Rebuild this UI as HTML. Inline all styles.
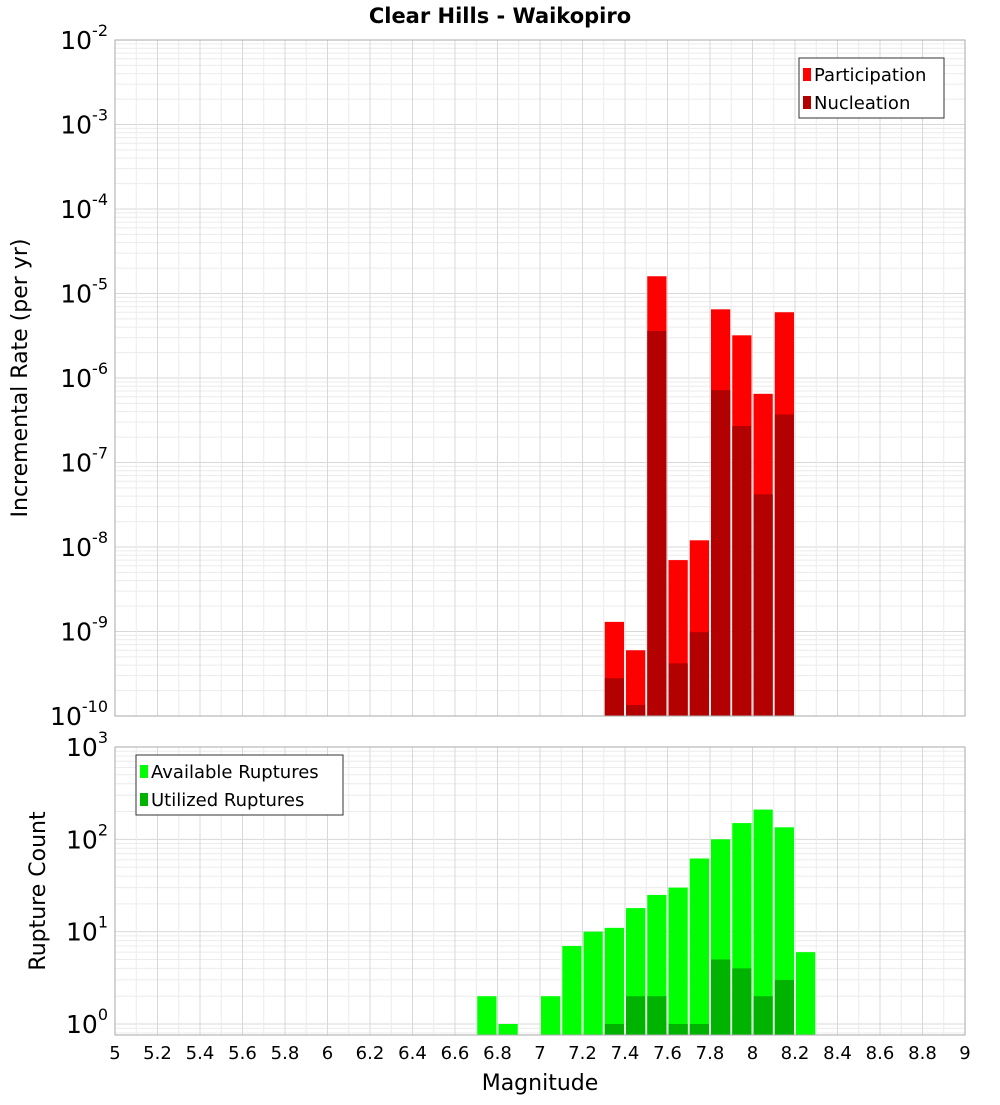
<!DOCTYPE html>
<html><head><meta charset="utf-8"><style>
body{margin:0;background:#fff;font-family:"Liberation Sans","DejaVu Sans",sans-serif}
svg text{font-family:"DejaVu Sans","Liberation Sans",sans-serif}
</style></head><body>
<svg id="c" width="1000" height="1100" viewBox="0 0 1000 1100" xmlns="http://www.w3.org/2000/svg">
<text x="500" y="23" text-anchor="middle" font-size="21" font-weight="bold">Clear Hills - Waikopiro</text>
<g id="topg"></g><g id="botg"></g>
<text transform="translate(27,378) rotate(-90)" text-anchor="middle" font-size="22">Incremental Rate (per yr)</text>
<text transform="translate(45,891) rotate(-90)" text-anchor="middle" font-size="22">Rupture Count</text>
<text x="540" y="1090" text-anchor="middle" font-size="22">Magnitude</text>
</svg>
<script>
const mags=[7.35,7.45,7.55,7.65,7.75,7.85,7.95,8.05,8.15];
const participation=[1.3e-9,6e-10,1.6e-5,7e-9,1.2e-8,6.5e-6,3.2e-6,6.5e-7,6e-6];
const nucleation=[2.8e-10,1.35e-10,3.6e-6,4.2e-10,9.8e-10,7.2e-7,2.7e-7,4.2e-8,3.7e-7];
const countMags=[6.75,6.85,7.05,7.15,7.25,7.35,7.45,7.55,7.65,7.75,7.85,7.95,8.05,8.15,8.25];
const available=[2,1,2,7,10,11,18,25,30,62,100,150,210,135,6];
const utilMags=[7.35,7.45,7.55,7.65,7.75,7.85,7.95,8.05,8.15];
const utilized=[1,2,2,1,1,5,4,2,3];
const xTicks=[5,5.2,5.4,5.6,5.8,6,6.2,6.4,6.6,6.8,7,7.2,7.4,7.6,7.8,8,8.2,8.4,8.6,8.8,9];
const topExps=[-2,-3,-4,-5,-6,-7,-8,-9,-10];
const botExps=[3,2,1,0];

const NS='http://www.w3.org/2000/svg';
const X0=115,X1=965;
const x=m=>X0+(m-5)*(X1-X0)/4;
const T0=40,T1=716;
const yT=v=>T0+(-2-Math.log10(v))*(T1-T0)/8;
const B0=747,BD=92.33,B1=1035;
const yB=v=>B0+(3-Math.log10(v))*BD;
function el(p,t,a){const e=document.createElementNS(NS,t);for(const k in a)e.setAttribute(k,a[k]);p.appendChild(e);return e;}
const topG=document.getElementById('topg'),botG=document.getElementById('botg');

function grid(g,y0,y1,yf,lo,hi){
  for(let d=lo;d<hi;d++)for(let k=1;k<10;k++){const yy=yf(k*Math.pow(10,d));if(yy<y0-0.5||yy>y1+0.5)continue;
    const l=el(g,'line',{x1:X0,x2:X1,y1:yy,y2:yy,stroke:k==1?'#d8d8d8':'#ececec','stroke-width':1});
    }
  for(let i=0;i<=40;i++){const m=5+i*0.1;const xx=x(m);const major=i%2==0;
    const l=el(g,'line',{x1:xx,x2:xx,y1:y0,y2:y1,stroke:major?'#d8d8d8':'#ececec','stroke-width':1});
    }
}
grid(topG,T0,T1,yT,-10,-2);
grid(botG,B0,B1,yB,-1,3);

const bw=(X1-X0)/40;
function bar(g,m,v,base,yf,col,name){
  const r=el(g,'rect',{x:x(m)-bw/2+1,y:yf(v),width:bw-2,height:base-yf(v),fill:col});
  
}
mags.forEach((m,i)=>bar(topG,m,participation[i],T1,yT,'#ff0000','participation-bar'));
mags.forEach((m,i)=>bar(topG,m,nucleation[i],T1,yT,'#b30000','nucleation-bar'));
countMags.forEach((m,i)=>bar(botG,m,available[i],B1,yB,'#00ff00','available-bar'));
utilMags.forEach((m,i)=>bar(botG,m,utilized[i],B1,yB,'#00b300','utilized-bar'));

let f=el(topG,'rect',{x:X0,y:T0,width:X1-X0,height:T1-T0,fill:'none',stroke:'#aaa'});

f=el(botG,'rect',{x:X0,y:B0,width:X1-X0,height:B1-B0,fill:'none',stroke:'#aaa'});


function ylab(g,yy,e){
  const t=el(g,'text',{x:108,y:yy+9,'text-anchor':'end','font-size':25});
  
  t.textContent='10';const s=el(t,'tspan',{dy:-13,'font-size':16});s.textContent=String(e);
}
topExps.forEach(e=>ylab(topG,yT(Math.pow(10,e)),e));
botExps.forEach(e=>ylab(botG,yB(Math.pow(10,e)),e));
xTicks.forEach(m=>{const t=el(botG,'text',{x:x(m),y:1059,'text-anchor':'middle','font-size':18});
  
  t.textContent=String(m);});

function legend(g,lx,ly,w,items,name){
  const L=el(g,'g',{});
  el(L,'rect',{x:lx,y:ly,width:w,height:60,fill:'#fff',stroke:'#333'});
  items.forEach((it,i)=>{const sw=el(L,'rect',{x:lx+4,y:ly+10+i*28,width:8,height:13,fill:it[1]});
    
    const t=el(L,'text',{x:lx+15,y:ly+23+i*28,'font-size':18});
    t.textContent=it[0];});
}
legend(topG,799,58,145,[['Participation','#ff0000'],['Nucleation','#b30000']],'legend-top');
legend(botG,136,755,207,[['Available Ruptures','#00ff00'],['Utilized Ruptures','#00b300']],'legend-bottom');
</script>
</body></html>
